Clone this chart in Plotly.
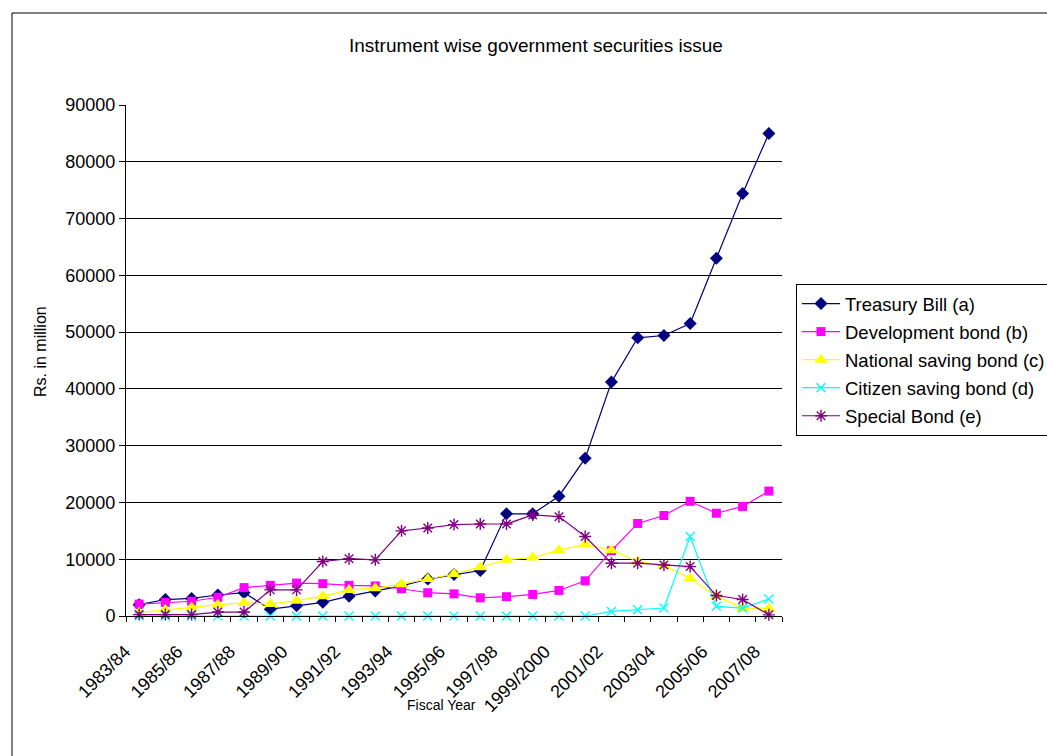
import plotly.graph_objects as go

# Fiscal years (categories)
years = ["1983/84", "1984/85", "1985/86", "1986/87", "1987/88", "1988/89",
         "1989/90", "1990/91", "1991/92", "1992/93", "1993/94", "1994/95",
         "1995/96", "1996/97", "1997/98", "1998/99", "1999/2000", "2000/01",
         "2001/02", "2002/03", "2003/04", "2004/05", "2005/06", "2006/07",
         "2007/08"]

# Issue amounts, Rs. in million
treasury_bill = [2000, 2900, 3100, 3700, 4100, 1200, 1800, 2400, 3500, 4400,
                 5300, 6500, 7300, 8000, 18000, 18000, 21100, 27800, 41200,
                 49000, 49400, 51500, 63000, 74400, 85000]
development_bond = [2100, 2400, 2600, 3300, 5000, 5400, 5800, 5700, 5400, 5300,
                    4800, 4100, 3900, 3200, 3400, 3800, 4500, 6200, 11500,
                    16300, 17700, 20200, 18100, 19300, 22000]
national_saving_bond = [600, 1100, 1500, 2000, 2300, 2100, 2700, 3500, 4600, 4900,
                        5600, 6500, 7400, 8600, 9900, 10300, 11600, 12600, 11600,
                        9600, 8900, 6600, 3500, 1400, 1300]
citizen_saving_bond = [0, 0, 0, 0, 0, 0, 0, 0, 0, 0, 0, 0, 0, 0, 0, 0, 0, 0,
                       800, 1100, 1400, 14000, 1700, 1400, 3000]
special_bond = [250, 250, 250, 700, 700, 4600, 4600, 9600, 10100, 9900, 15000,
                15500, 16100, 16200, 16200, 17800, 17500, 14000, 9300, 9300,
                9000, 8700, 3600, 2900, 200]

series = [
    ("Treasury Bill (a)", treasury_bill, "#000080", "diamond", 10),
    ("Development bond (b)", development_bond, "#FF00FF", "square", 9),
    ("National saving bond (c)", national_saving_bond, "#FFFF00", "triangle-up", 12),
    ("Citizen saving bond (d)", citizen_saving_bond, "#00FFFF", "x-thin", 9),
    ("Special Bond (e)", special_bond, "#800080", "asterisk", 10),
]

FONT = "Liberation Sans, Arial, sans-serif"
xs = list(range(len(years)))

fig = go.Figure()
for name, vals, color, symbol, size in series:
    marker = dict(symbol=symbol, size=size, color=color)
    if symbol in ("x-thin", "asterisk"):
        marker["line"] = dict(color=color, width=1.4)
    else:
        marker["line"] = dict(width=0)
    fig.add_trace(go.Scatter(
        x=xs, y=vals, name=name, mode="lines+markers", legendgroup=name,
        line=dict(color=color, width=1.2), marker=marker, cliponaxis=False,
    ))

W, H = 1047, 756
L, R, T, B = 126, 265, 105, 140
pw, ph = W - L - R, H - T - B


def px_x(p):
    return (p - L) / pw


def px_y(p):
    return (H - B - p) / ph


fig.update_layout(
    width=W, height=H,
    margin=dict(l=L, r=R, t=T, b=B, autoexpand=False),
    paper_bgcolor="white", plot_bgcolor="white",
    font=dict(family=FONT, size=18, color="black"),
    showlegend=True,
    legend=dict(
        x=px_x(796), y=px_y(284), xanchor="left", yanchor="top",
        bordercolor="black", borderwidth=1, bgcolor="white",
        font=dict(family=FONT, size=18.5, color="black"),
        itemwidth=38, tracegroupgap=1,
    ),
    xaxis=dict(
        range=[-0.5, len(years) - 0.5],
        tickmode="array", tickvals=xs[::2], ticktext=years[::2],
        tickangle=-45, ticks="", showgrid=False, zeroline=False,
        ticklabelstandoff=17, ticklabelshift=-14,
        showline=True, linecolor="black", linewidth=1,
        tickfont=dict(family=FONT, size=18, color="black"),
        minor=dict(tickmode="array", tickvals=[i - 0.5 for i in range(len(years) + 1)],
                   ticks="outside", ticklen=5, tickcolor="black", tickwidth=1,
                   showgrid=False),
    ),
    yaxis=dict(
        range=[0, 90000], dtick=10000, tickformat="d",
        ticks="outside", ticklen=6, tickcolor="black",
        showgrid=True, gridcolor="black", gridwidth=1, zeroline=False,
        showline=True, linecolor="black", linewidth=1,
        tickfont=dict(family=FONT, size=18, color="black"),
    ),
    shapes=[
        dict(type="rect", xref="paper", yref="paper",
             x0=px_x(12), x1=px_x(1200), y0=px_y(900), y1=px_y(13),
             line=dict(color="black", width=1), fillcolor="rgba(0,0,0,0)",
             layer="below"),
    ],
    annotations=[
        dict(text="Instrument wise government securities issue",
             xref="paper", yref="paper", x=px_x(536), y=px_y(45),
             showarrow=False, xanchor="center", yanchor="middle",
             font=dict(family=FONT, size=19, color="black")),
        dict(text="Rs. in million", xref="paper", yref="paper",
             x=px_x(40), y=px_y(352), showarrow=False, textangle=-90,
             xanchor="center", yanchor="middle",
             font=dict(family=FONT, size=16, color="black")),
        dict(text="Fiscal Year", xref="paper", yref="paper",
             x=px_x(441), y=px_y(705), showarrow=False,
             xanchor="center", yanchor="middle",
             font=dict(family=FONT, size=14, color="black")),
    ],
)

fig.write_html("out.html")
